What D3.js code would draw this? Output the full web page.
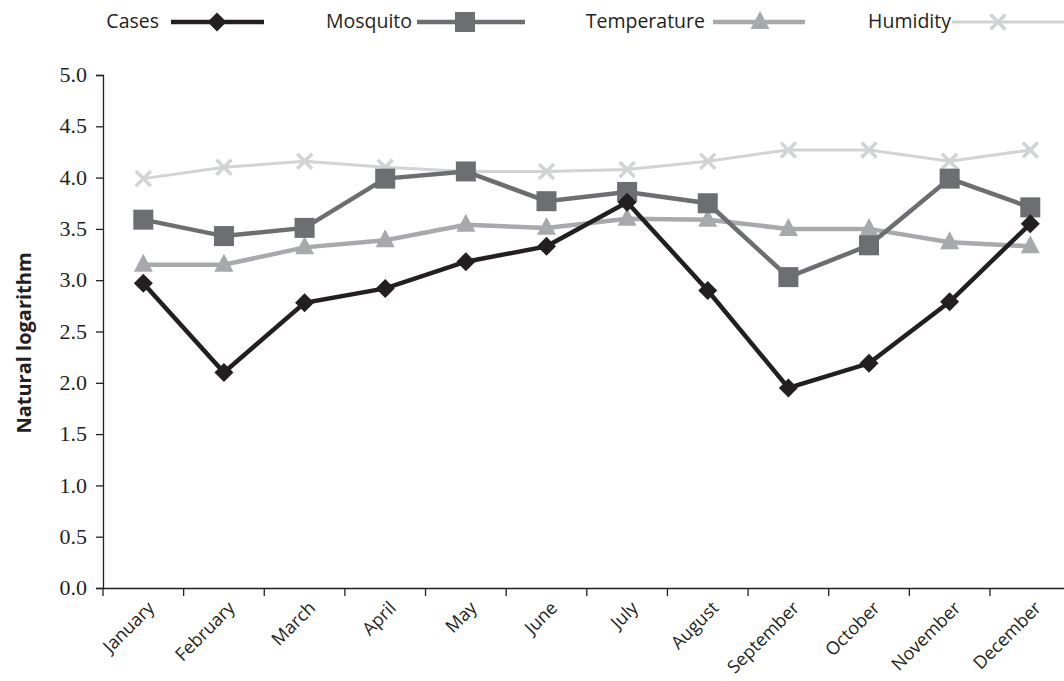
<!DOCTYPE html>
<html><head><meta charset="utf-8">
<script src="https://cdn.jsdelivr.net/npm/d3@7"></script>
<style>body{margin:0;background:#fff;} svg{display:block;}</style>
</head><body>
<svg id="chart" width="1064" height="681"></svg>
<script>
const months = ["January","February","March","April","May","June","July","August","September","October","November","December"];
const cases = [2.97, 2.10, 2.78, 2.92, 3.18, 3.33, 3.76, 2.90, 1.95, 2.19, 2.79, 3.55];
const mosquito = [3.59, 3.43, 3.51, 3.99, 4.06, 3.77, 3.86, 3.75, 3.03, 3.34, 3.99, 3.71];
const temperature = [3.15, 3.15, 3.32, 3.39, 3.54, 3.51, 3.60, 3.59, 3.50, 3.50, 3.37, 3.33];
const humidity = [3.99, 4.10, 4.16, 4.10, 4.06, 4.06, 4.08, 4.16, 4.27, 4.27, 4.16, 4.27];
const yTicks = [0, 0.5, 1, 1.5, 2, 2.5, 3, 3.5, 4, 4.5, 5];

const seriesList = [
  {name:"Cases", values:cases, color:"#231f20", width:4.5, marker:"diamond"},
  {name:"Mosquito", values:mosquito, color:"#6d6e71", width:4.5, marker:"square"},
  {name:"Temperature", values:temperature, color:"#a7a9ac", width:4.5, marker:"triangle"},
  {name:"Humidity", values:humidity, color:"#d1d3d4", width:3, marker:"cross"}
];

const svg = d3.select("#chart");
const FONT = "'Open Sans', sans-serif";
const SERIF = "'Liberation Serif', serif";
const mLeft = 103, mRight = 1070.6, mTop = 75, mBottom = 588;

const x = d3.scaleBand().domain(months).range([mLeft, mRight]);
const y = d3.scaleLinear().domain([0, 5]).range([mBottom, mTop]);

// Y axis
const yAxis = svg.append("g").attr("transform", `translate(${mLeft},0)`)
  .call(d3.axisLeft(y).tickValues(yTicks).tickFormat(d3.format(".1f")).tickSize(7).tickPadding(9));
yAxis.select(".domain").attr("stroke", "#231f20").attr("stroke-width", 1.3);
yAxis.selectAll(".tick line").attr("stroke", "#231f20").attr("stroke-width", 1.3);
yAxis.selectAll(".tick text").attr("font-family", SERIF).attr("font-size", 22).attr("fill", "#231f20").attr("dy", "0.3em");

// X axis
const xAxis = svg.append("g").attr("transform", `translate(0,${mBottom})`)
  .call(d3.axisBottom(x).tickSize(0).tickFormat(""));
xAxis.select(".domain").attr("stroke", "#231f20").attr("stroke-width", 1.3);
const boundaries = months.map(m => x(m)).concat([x.range()[1]]);
xAxis.selectAll(".bnd").data(boundaries).join("line").attr("class","bnd")
  .attr("x1", d => d).attr("x2", d => d).attr("y1", 0).attr("y2", 8)
  .attr("stroke", "#231f20").attr("stroke-width", 1.3);
xAxis.selectAll(".lbl").data(months).join("text").attr("class","lbl")
  .attr("transform", d => `translate(${x(d) + x.bandwidth()/2 + 12},${21}) rotate(-45)`)
  .attr("text-anchor", "end")
  .attr("font-family", FONT).attr("font-size", 18).attr("fill", "#231f20")
  .text(d => d);

// Y label
svg.append("text")
  .attr("transform", `translate(31,343) rotate(-90)`)
  .attr("text-anchor", "middle")
  .attr("font-family", FONT).attr("font-weight", "bold").attr("font-size", 20).attr("fill", "#231f20")
  .text("Natural logarithm");

function drawMarker(g, type, cx, cy, color) {
  if (type === "diamond") {
    const s = 9.5;
    g.append("path").attr("d", `M${cx},${cy-s}L${cx+s},${cy}L${cx},${cy+s}L${cx-s},${cy}Z`).attr("fill", color);
  } else if (type === "square") {
    const s = 10;
    g.append("rect").attr("x", cx-s).attr("y", cy-s).attr("width", 2*s).attr("height", 2*s).attr("fill", color);
  } else if (type === "triangle") {
    g.append("path").attr("d", `M${cx},${cy-11}L${cx+9.5},${cy+7}L${cx-9.5},${cy+7}Z`).attr("fill", color);
  } else {
    const s = 7.5;
    g.append("path").attr("d", `M${cx-s},${cy-s}L${cx+s},${cy+s}M${cx+s},${cy-s}L${cx-s},${cy+s}`)
      .attr("stroke", color).attr("stroke-width", 3.5).attr("fill","none");
  }
}

const line = d3.line().x((d,i) => x(months[i]) + x.bandwidth()/2).y(d => y(d));
[...seriesList].reverse().forEach(s => {
  const g = svg.append("g");
  g.append("path").attr("d", line(s.values)).attr("fill","none")
    .attr("stroke", s.color).attr("stroke-width", s.width).attr("stroke-linejoin","miter");
  s.values.forEach((v,i) => drawMarker(g, s.marker, x(months[i]) + x.bandwidth()/2, y(v), s.color));
});

// Legend
const legendItems = [
  {text:"Cases", tx:159, l1:171, l2:264, mx:217},
  {text:"Mosquito", tx:412, l1:417, l2:525, mx:465},
  {text:"Temperature", tx:705, l1:713, l2:805, mx:760},
  {text:"Humidity", tx:951, l1:952, l2:1070, mx:998}
];
const lg = svg.append("g");
legendItems.forEach((it, i) => {
  const s = seriesList[i];
  lg.append("text").attr("x", it.tx).attr("y", 28).attr("text-anchor","end")
    .attr("font-family", FONT).attr("font-size", 19.5).attr("fill", "#231f20").text(it.text);
  lg.append("line").attr("x1", it.l1).attr("x2", it.l2).attr("y1", 22).attr("y2", 22)
    .attr("stroke", s.color).attr("stroke-width", s.width);
  drawMarker(lg, s.marker, it.mx, 22, s.color);
});
</script>
</body></html>
